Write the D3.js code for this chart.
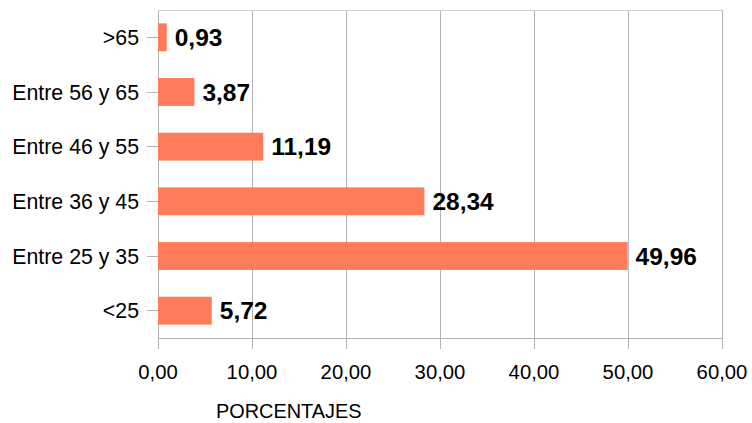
<!DOCTYPE html>
<html><head><meta charset="utf-8">
<script src="https://cdn.jsdelivr.net/npm/d3@7"></script>
<style>body{margin:0;background:#fff}svg{display:block}text{font-family:"Liberation Sans",Arial,sans-serif}</style>
</head><body><svg id="c" width="752" height="423"></svg>
<script>
const categories = [">65","Entre 56 y 65","Entre 46 y 55","Entre 36 y 45","Entre 25 y 35","<25"];
const values = [0.93,3.87,11.19,28.34,49.96,5.72];
const xTicks = [0,10,20,30,40,50,60];
const xTitle = "PORCENTAJES";

const svg = d3.select("#c");
const m = {left:158, right:30, top:10, bottom:85};
const W = 752, H = 423;
const x = d3.scaleLinear().domain([0,60]).range([m.left, W-m.right]);
const y = d3.scaleBand().domain(categories).range([m.top, H-m.bottom]).paddingInner(0.49).paddingOuter(0.245);
const fmt = v => v.toFixed(2).replace(".", ",");

// grid
svg.append("g").selectAll("line").data(xTicks).join("line")
  .attr("x1", d=>x(d)).attr("x2", d=>x(d)).attr("y1", m.top).attr("y2", H-m.bottom+11)
  .attr("stroke", "#b3b3b3").attr("stroke-width", 1).attr("shape-rendering","crispEdges");
// top border
svg.append("line").attr("x1", x(0)).attr("x2", x(60)).attr("y1", m.top).attr("y2", m.top)
  .attr("stroke", "#d0d0d0").attr("shape-rendering","crispEdges");
// bottom axis
svg.append("line").attr("x1", x(0)).attr("x2", x(60)).attr("y1", H-m.bottom).attr("y2", H-m.bottom)
  .attr("stroke", "#b3b3b3").attr("shape-rendering","crispEdges");

// y axis ticks + labels
const yg = svg.append("g");
yg.selectAll("line").data(categories).join("line")
  .attr("x1", m.left-11).attr("x2", m.left).attr("y1", d=>y(d)+y.bandwidth()/2).attr("y2", d=>y(d)+y.bandwidth()/2)
  .attr("stroke", "#b3b3b3").attr("shape-rendering","crispEdges");
yg.selectAll("text").data(categories).join("text")
  .attr("x", 139).attr("y", d=>y(d)+y.bandwidth()/2).attr("dy","0.36em")
  .attr("text-anchor","end").attr("font-size", 21.3).attr("fill","#000").text(d=>d);

// bars
svg.append("g").selectAll("rect").data(values).join("rect")
  .attr("x", x(0)).attr("y", (d,i)=>y(categories[i]))
  .attr("width", d=>x(d)-x(0)).attr("height", y.bandwidth())
  .attr("fill", "#ff7b5a");

// value labels
svg.append("g").selectAll("text").data(values).join("text")
  .attr("x", d=>x(d)+8).attr("y", (d,i)=>y(categories[i])+y.bandwidth()/2).attr("dy","0.36em")
  .attr("font-size", 24.5).attr("font-weight","bold").attr("fill","#000").text(fmt);

// x tick labels
svg.append("g").selectAll("text").data(xTicks).join("text")
  .attr("x", d=>x(d)).attr("y", 379).attr("text-anchor","middle")
  .attr("font-size", 20.3).attr("fill","#000").text(fmt);

// x title
svg.append("text").attr("x", 216).attr("y", 418).attr("font-size", 19.9).attr("fill","#000").text(xTitle);
</script></body></html>
